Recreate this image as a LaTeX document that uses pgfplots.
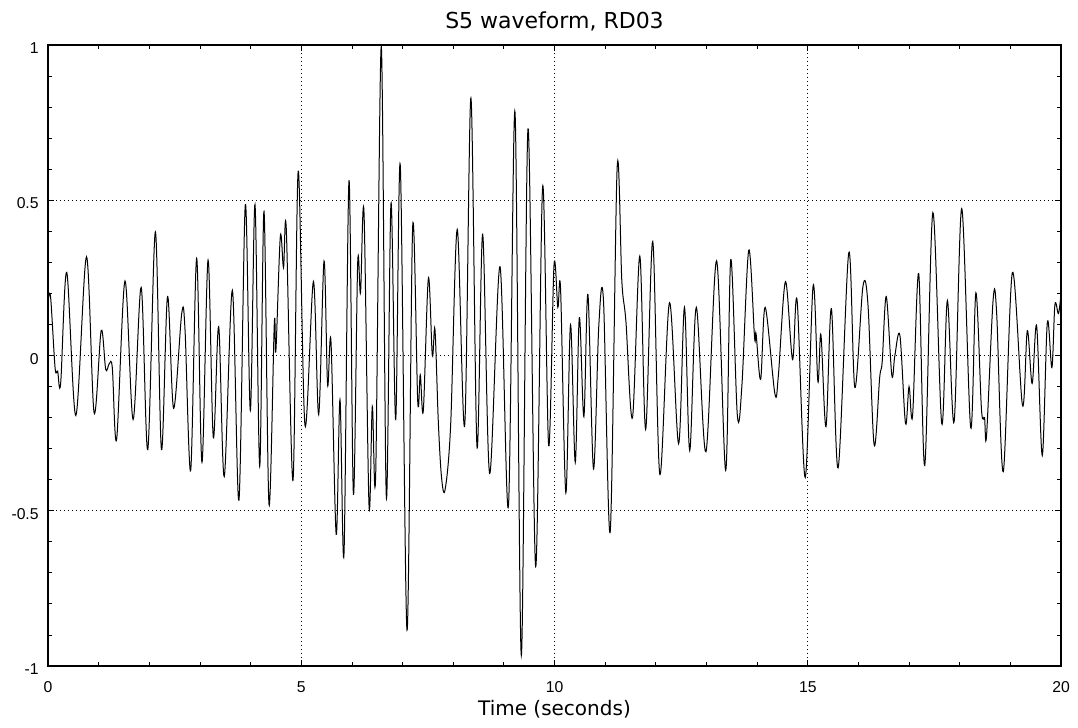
\documentclass[border=0pt]{standalone}
\usepackage{pgfplots}
\pgfplotsset{compat=1.18}
\usepackage{fontspec}
\setmainfont{DejaVu Sans}
\newfontfamily\tickfont{Liberation Sans}
\begin{document}
\begin{tikzpicture}
\path[use as bounding box] (-36pt,-46.5pt) rectangle (772.5pt,499.5pt);
\begin{axis}[at={(0,0)}, anchor=south west,
 scale only axis, width=759.75pt, height=465.75pt,
 xmin=0, xmax=20, ymin=-1, ymax=1,
 xtick={0,5,10,15,20}, xticklabels={0,5,10,15,20},
 ytick={-1,-0.5,0,0.5,1}, yticklabels={-1,-0.5,0,0.5,1},
 minor x tick num=4, minor y tick num=4,
 major tick length=4.5pt, minor tick length=3pt,
 tick style={black, line width=0.6pt},
 grid=major,
 major grid style={black, line width=0.6pt, dash pattern=on 0.75pt off 2.25pt},
 axis line style={line width=0.8pt},
 ticklabel style={font=\tickfont\fontsize{11.8}{14}\selectfont},
 xticklabel style={anchor=base, yshift=-20pt},
 yticklabel style={anchor=east, xshift=-3.5pt, yshift=-2.5pt},
 title={S5 waveform, RD03},
 title style={font=\fontsize{16.5}{19}\selectfont, anchor=base, at={(axis description cs:0.5,1)}, yshift=6pt},
 xlabel={Time (seconds)},
 xlabel style={font=\fontsize{15}{18}\selectfont, anchor=base, at={(axis description cs:0.5,0)}, yshift=-37.5pt},
]
\addplot[black, line width=0.75pt, smooth, tension=0.55] coordinates {
(0,0.17) (0.05,0.19) (0.14,-0.04) (0.19,-0.05) (0.25,-0.09) (0.37,0.268) (0.55,-0.193) (0.76,0.318) (0.91,-0.184)
(1.05,0.08) (1.14,-0.045) (1.21,-0.026) (1.27,-0.04) (1.355,-0.27) (1.52,0.24) (1.68,-0.206) (1.84,0.219) (1.97,-0.303)
(2.12,0.398) (2.24,-0.303) (2.36,0.19) (2.48,-0.17) (2.64,0.135) (2.705,0.084) (2.817,-0.37) (2.935,0.313)
(3.04,-0.344) (3.16,0.307) (3.264,-0.264) (3.37,0.093) (3.48,-0.39) (3.64,0.21) (3.77,-0.466) (3.896,0.486) (3.995,-0.177)
(4.087,0.486) (4.18,-0.357) (4.265,0.464) (4.363,-0.479) (4.468,0.103) (4.50,0.017) (4.587,0.384) (4.65,0.283) (4.705,0.406)
(4.837,-0.402) (4.94,0.593) (5.074,-0.225) (5.24,0.238) (5.344,-0.19) (5.45,0.304) (5.52,-0.094) (5.587,0.045)
(5.69,-0.576) (5.765,-0.142) (5.844,-0.638) (5.943,0.563) (6.03,-0.447) (6.114,0.296) (6.17,0.202) (6.239,0.46)
(6.338,-0.483) (6.403,-0.164) (6.47,-0.38) (6.58,0.995) (6.68,-0.457) (6.772,0.49) (6.865,-0.206) (6.956,0.61)
(7.088,-0.885) (7.2,0.415) (7.3,-0.148) (7.35,-0.062) (7.41,-0.177) (7.51,0.249) (7.588,0.0) (7.64,0.084)
(7.706,-0.213) (7.77,-0.393) (7.84,-0.432) (7.95,-0.223) (8.08,0.406) (8.227,-0.225) (8.35,0.829) (8.47,-0.294)
(8.582,0.39) (8.72,-0.38) (8.924,0.286) (9.09,-0.486) (9.22,0.784) (9.345,-0.966) (9.477,0.73) (9.628,-0.68)
(9.766,0.544) (9.885,-0.29) (9.99,0.29) (10.066,0.155) (10.12,0.213) (10.224,-0.442) (10.316,0.099) (10.41,-0.344)
(10.49,0.122) (10.58,-0.197) (10.66,0.197) (10.77,-0.365) (10.875,0.097) (10.967,0.177) (11.1,-0.567) (11.237,0.605)
(11.33,0.238) (11.41,0.11) (11.54,-0.2) (11.684,0.32) (11.8,-0.238) (11.94,0.367) (12.08,-0.383) (12.27,0.17)
(12.45,-0.284) (12.566,0.155) (12.67,-0.306) (12.80,0.155) (12.99,-0.31) (13.2,0.305) (13.38,-0.37) (13.48,0.309)
(13.61,-0.193) (13.70,-0.097) (13.835,0.339) (13.95,0.058) (13.98,0.07) (14.07,-0.077) (14.16,0.155) (14.35,-0.122)
(14.42,-0.064) (14.56,0.238) (14.70,-0.013) (14.79,0.177) (14.95,-0.393) (15.105,0.223) (15.2,-0.084) (15.26,0.067)
(15.36,-0.229) (15.467,0.151) (15.6,-0.362) (15.81,0.331) (15.93,-0.103) (16.09,0.223) (16.19,0.161) (16.31,-0.287)
(16.42,-0.071) (16.47,-0.02) (16.55,0.19) (16.66,-0.064) (16.72,0.0) (16.82,0.064) (16.93,-0.219) (17.0,-0.1)
(17.07,-0.193) (17.19,0.264) (17.31,-0.354) (17.47,0.46) (17.645,-0.219) (17.757,0.177) (17.89,-0.213) (18.04,0.473)
(18.217,-0.232) (18.32,0.202) (18.43,-0.174) (18.49,-0.2) (18.53,-0.258) (18.66,0.18) (18.73,0.135) (18.86,-0.374)
(19.04,0.267) (19.24,-0.161) (19.335,0.08) (19.43,-0.09) (19.52,0.094) (19.63,-0.322) (19.73,0.106) (19.82,-0.039)
(19.88,0.164) (19.95,0.135) (20.0,0.2)
};
\end{axis}
\end{tikzpicture}
\end{document}
